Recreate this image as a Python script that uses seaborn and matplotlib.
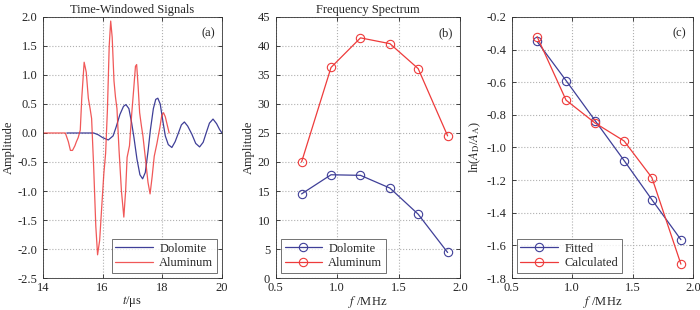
import numpy as np
import pandas as pd
import seaborn as sns
import matplotlib
matplotlib.use("Agg")
import matplotlib.pyplot as plt

# panel (a): time-windowed signals
t_dol = [14.80, 15.70, 15.85, 16.00, 16.19, 16.35, 16.45, 16.58, 16.70, 16.78,
         16.88, 16.97, 17.05, 17.15, 17.25, 17.34, 17.43, 17.52, 17.60, 17.70,
         17.78, 17.85, 17.93, 18.02, 18.10, 18.20, 18.32, 18.43, 18.54, 18.64,
         18.74, 18.85, 18.99, 19.12, 19.25, 19.37, 19.47, 19.58, 19.70, 19.82,
         19.92, 20.00]
a_dol = [0.0, 0.0, -0.03, -0.08, -0.12, -0.05, 0.10, 0.32, 0.46, 0.49,
         0.42, 0.18, -0.08, -0.45, -0.72, -0.79, -0.68, -0.32, 0.05, 0.42,
         0.58, 0.60, 0.50, 0.20, -0.05, -0.20, -0.25, -0.15, 0.0, 0.14,
         0.19, 0.12, -0.02, -0.18, -0.24, -0.16, 0.0, 0.17, 0.24, 0.16,
         0.06, 0.0]

t_alu = [14.00, 14.75, 14.85, 14.92, 14.99, 15.07, 15.12, 15.18, 15.25, 15.30,
         15.38, 15.45, 15.52, 15.58, 15.63, 15.70, 15.77, 15.83, 15.90, 15.96,
         16.04, 16.10, 16.16, 16.22, 16.27, 16.32, 16.38, 16.43, 16.48, 16.55,
         16.63, 16.71, 16.77, 16.82, 16.90, 16.97, 17.04, 17.10, 17.14, 17.19,
         17.24, 17.30, 17.35, 17.43, 17.52, 17.59, 17.66, 17.73, 17.82, 17.92,
         17.98, 18.04, 18.10, 18.16, 18.23]
a_alu = [0.0, 0.0, -0.15, -0.30, -0.30, -0.22, -0.15, -0.08, 0.05, 0.60,
         1.22, 1.05, 0.60, 0.42, 0.25, -0.60, -1.60, -2.10, -1.85, -1.35,
         -0.70, -0.35, 0.40, 1.50, 1.93, 1.65, 0.90, 0.62, 0.42, -0.30,
         -1.00, -1.45, -1.00, -0.42, -0.22, 0.30, 0.75, 1.15, 1.18, 0.80,
         0.35, 0.12, -0.05, -0.42, -0.85, -1.05, -0.75, -0.40, -0.18, 0.10,
         0.30, 0.35, 0.28, 0.15, 0.0]

# panel (b): frequency spectrum
freq = [0.71, 0.95, 1.19, 1.43, 1.66, 1.90]
spec_dol = [14.5, 17.8, 17.7, 15.5, 11.0, 4.4]
spec_alu = [20.0, 36.3, 41.4, 40.4, 36.1, 24.5]

# panel (c): log spectral ratio
ratio_fit = [-0.35, -0.59, -0.835, -1.08, -1.32, -1.565]
ratio_calc = [-0.32, -0.71, -0.85, -0.96, -1.185, -1.715]

BLUE = "#3f3f98"
RED = "#ee3b3b"
FS = 9

sns.set_theme(style="ticks")
plt.rcParams["font.family"] = ["Liberation Serif", "DejaVu Serif"]
plt.rcParams["mathtext.fontset"] = "stix"
plt.rcParams["xtick.direction"] = "in"
plt.rcParams["ytick.direction"] = "in"

fig = plt.figure(figsize=(7, 3.1), dpi=100)
ax1 = fig.add_axes([0.0614, 0.1032, 0.2557, 0.842])
ax2 = fig.add_axes([0.394, 0.1032, 0.263, 0.842])
ax3 = fig.add_axes([0.731, 0.1032, 0.259, 0.842])


def style(ax):
    ax.grid(True, color="#b0b0b0", linestyle=":", linewidth=0.8)
    ax.tick_params(labelsize=FS, length=3, width=0.6, top=True, right=True)
    ax.tick_params(axis="x", pad=3)
    ax.tick_params(axis="y", pad=4)
    for s in ax.spines.values():
        s.set_linewidth(0.6)
        s.set_color("#333333")


def legend(ax, loc):
    leg = ax.legend(loc=loc, fontsize=FS, frameon=True, fancybox=False,
                    edgecolor="#333333", handlelength=3.0, borderpad=0.3,
                    labelspacing=0.2, handletextpad=0.5, borderaxespad=0.4)
    leg.get_frame().set_linewidth(0.6)


def marked(ax, x, y, color, label):
    sns.lineplot(x=x, y=y, ax=ax, color=color, lw=0.9, marker="o", markersize=6,
                 markerfacecolor="none", markeredgecolor=color,
                 markeredgewidth=0.8, label=label)


# (a)
sns.lineplot(x=t_dol, y=a_dol, ax=ax1, color=BLUE, lw=0.9, label="Dolomite")
sns.lineplot(x=t_alu, y=a_alu, ax=ax1, color=RED, lw=0.9, alpha=0.85, label="Aluminum")
ax1.set_xlim(14, 20)
ax1.set_ylim(-2.5, 2.0)
ax1.set_xticks([14, 16, 18, 20])
yt = np.arange(-2.5, 2.01, 0.5)
ax1.set_yticks(yt)
ax1.set_yticklabels(["%.1f" % v for v in yt])
ax1.set_xlabel(r"$t$/μs", fontsize=FS, labelpad=0)
ax1.set_ylabel("Amplitude", fontsize=FS, labelpad=2)
ax1.set_title("Time-Windowed Signals", fontsize=FS, pad=3)
ax1.text(0.96, 0.96, "(a)", transform=ax1.transAxes, ha="right", va="top", fontsize=FS)
style(ax1)
legend(ax1, "lower right")

# (b)
marked(ax2, freq, spec_dol, BLUE, "Dolomite")
marked(ax2, freq, spec_alu, RED, "Aluminum")
ax2.set_xlim(0.5, 2.0)
ax2.set_ylim(0, 45)
ax2.set_xticks([0.5, 1.0, 1.5, 2.0])
ax2.set_xticklabels(["0.5", "1.0", "1.5", "2.0"])
ax2.set_yticks(range(0, 46, 5))
ax2.set_xlabel(r"$f$ /MHz", fontsize=FS, labelpad=0)
ax2.set_ylabel("Amplitude", fontsize=FS, labelpad=2)
ax2.set_title("Frequency Spectrum", fontsize=FS, pad=3)
ax2.text(0.96, 0.96, "(b)", transform=ax2.transAxes, ha="right", va="top", fontsize=FS)
style(ax2)
legend(ax2, "lower left")

# (c)
marked(ax3, freq, ratio_fit, BLUE, "Fitted")
marked(ax3, freq, ratio_calc, RED, "Calculated")
ax3.set_xlim(0.5, 2.0)
ax3.set_ylim(-1.8, -0.2)
ax3.set_xticks([0.5, 1.0, 1.5, 2.0])
ax3.set_xticklabels(["0.5", "1.0", "1.5", "2.0"])
yt3 = np.arange(-1.8, -0.19, 0.2)
ax3.set_yticks(yt3)
ax3.set_yticklabels(["%.1f" % v for v in yt3])
ax3.set_xlabel(r"$f$ /MHz", fontsize=FS, labelpad=0)
ax3.set_ylabel(r"ln($A_{\rm D}$/$A_{\rm A}$)", fontsize=FS, labelpad=2)
ax3.text(0.96, 0.96, "(c)", transform=ax3.transAxes, ha="right", va="top", fontsize=FS)
style(ax3)
legend(ax3, "lower left")

plt.savefig("out.png", dpi=100)
